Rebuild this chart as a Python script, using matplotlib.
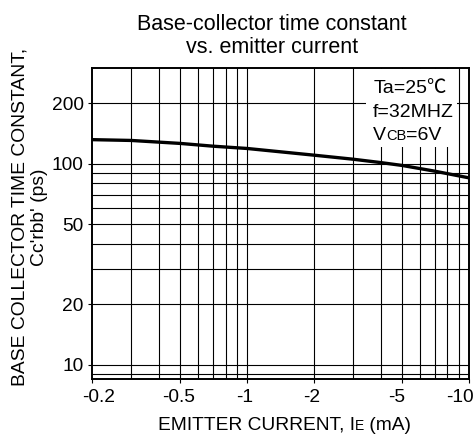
import matplotlib.pyplot as plt
import matplotlib.transforms as mtransforms
from matplotlib.patches import Rectangle

plt.rcParams["font.family"] = ["Liberation Sans", "Noto Sans CJK JP", "DejaVu Sans"]

# emitter current magnitude (mA), axis labelled negative
ie_ma = [0.2, 0.3, 0.5, 0.7, 1.0, 2.0, 3.0, 4.0, 5.0, 7.0, 10.0]
tau_ps = [132, 130.8, 126.4, 122.5, 119.3, 110.5, 105.5, 101.5, 98.2, 92.0, 85.2]

x_ticks = [0.2, 0.5, 1, 2, 5, 10]
x_tick_labels = ["-0.2", "-0.5", "-1", "-2", "-5", "-10"]
y_ticks = [10, 20, 50, 100, 200]
y_tick_labels = ["10", "20", "50", "100", "200"]

x_grid = [0.3, 0.4, 0.5, 0.6, 0.7, 0.8, 0.9, 1, 2, 3, 4, 5, 6, 7, 8, 9]
y_grid = [9, 10, 20, 30, 40, 50, 60, 70, 80, 90, 100, 200]

W, H = 474, 434
fig = plt.figure(figsize=(W / 100, H / 100), dpi=100)
ax = fig.add_axes([92 / W, 1 - 379 / H, (469 - 92) / W, (379 - 68) / H])

ax.set_xscale("log")
ax.set_yscale("log")
ax.set_xlim(0.2, 10)
ax.set_ylim(8.5, 300)

for gx in x_grid:
    ax.axvline(gx, color="black", lw=0.8, zorder=1)
for gy in y_grid:
    ax.axhline(gy, color="black", lw=0.8, zorder=1)

ax.plot(ie_ma, tau_ps, color="black", lw=2.4, zorder=3)

ax.set_xticks(x_ticks)
ax.set_xticklabels(x_tick_labels)
ax.set_yticks(y_ticks)
ax.set_yticklabels(y_tick_labels)
ax.minorticks_off()
ax.tick_params(axis="both", labelsize=13.8, length=3, width=0.8, colors="black")
ax.tick_params(axis="x", pad=4)
ax.tick_params(axis="y", pad=3)

# nudge x tick labels sideways (pixels) so the end ones stay inside the figure
label_nudge = [7, -2, -2.5, -2, -6, -9]
for lab, dx in zip(ax.get_xticklabels(), label_nudge):
    lab.set_transform(lab.get_transform()
                      + mtransforms.ScaledTranslation(dx / 100, 0, fig.dpi_scale_trans))

for sp in ax.spines.values():
    sp.set_linewidth(1.4)
    sp.set_zorder(6)

# conditions box (white patch over the grid)
ax.add_patch(Rectangle((366 / W, 1 - 147 / H), (457 - 366) / W, (147 - 69) / H,
                       transform=fig.transFigure, facecolor="white",
                       edgecolor="none", zorder=4))
fig.text(374 / W, 1 - 93 / H, "Ta=25\u2103", ha="left", va="baseline",
         fontsize=14, zorder=5)
fig.text(373 / W, 1 - 117 / H, "f=32MHZ", ha="left", va="baseline",
         fontsize=14, zorder=5)
t_v = fig.text(373 / W, 1 - 140 / H, "V", ha="left", va="baseline",
               fontsize=14, zorder=5)
t_cb = ax.annotate("CB", xy=(1, 0), xycoords=t_v, ha="left", va="bottom",
                   xytext=(0, 0.8), textcoords="offset points",
                   fontsize=10.5, zorder=6, annotation_clip=False)
ax.annotate("=6V", xy=(1, 0), xycoords=t_cb, ha="left", va="bottom",
            xytext=(0, -0.8), textcoords="offset points",
            fontsize=14, zorder=6, annotation_clip=False)

fig.text(0.574, 1 - 14 / H, "Base-collector time constant\nvs. emitter current",
         ha="center", va="top", fontsize=15.5, linespacing=1.15)

# x label with small-caps subscript
xl = fig.text(158 / W, 1 - 430 / H, "EMITTER CURRENT, I", ha="left",
              va="baseline", fontsize=13.8)
xe = ax.annotate("E", xy=(1, 0), xycoords=xl, ha="left", va="bottom",
                 xytext=(0, 0.8), textcoords="offset points",
                 fontsize=10, annotation_clip=False)
ax.annotate(" (mA)", xy=(1, 0), xycoords=xe, ha="left", va="bottom",
            xytext=(0, -0.8), textcoords="offset points",
            fontsize=13.8, annotation_clip=False)

fig.text(30 / W, 1 - 217 / H, "BASE COLLECTOR TIME CONSTANT,\nCc'rbb' (ps)",
         rotation=90, ha="center", va="center", fontsize=13.9,
         linespacing=1.2)

fig.savefig("out.png", dpi=100)
